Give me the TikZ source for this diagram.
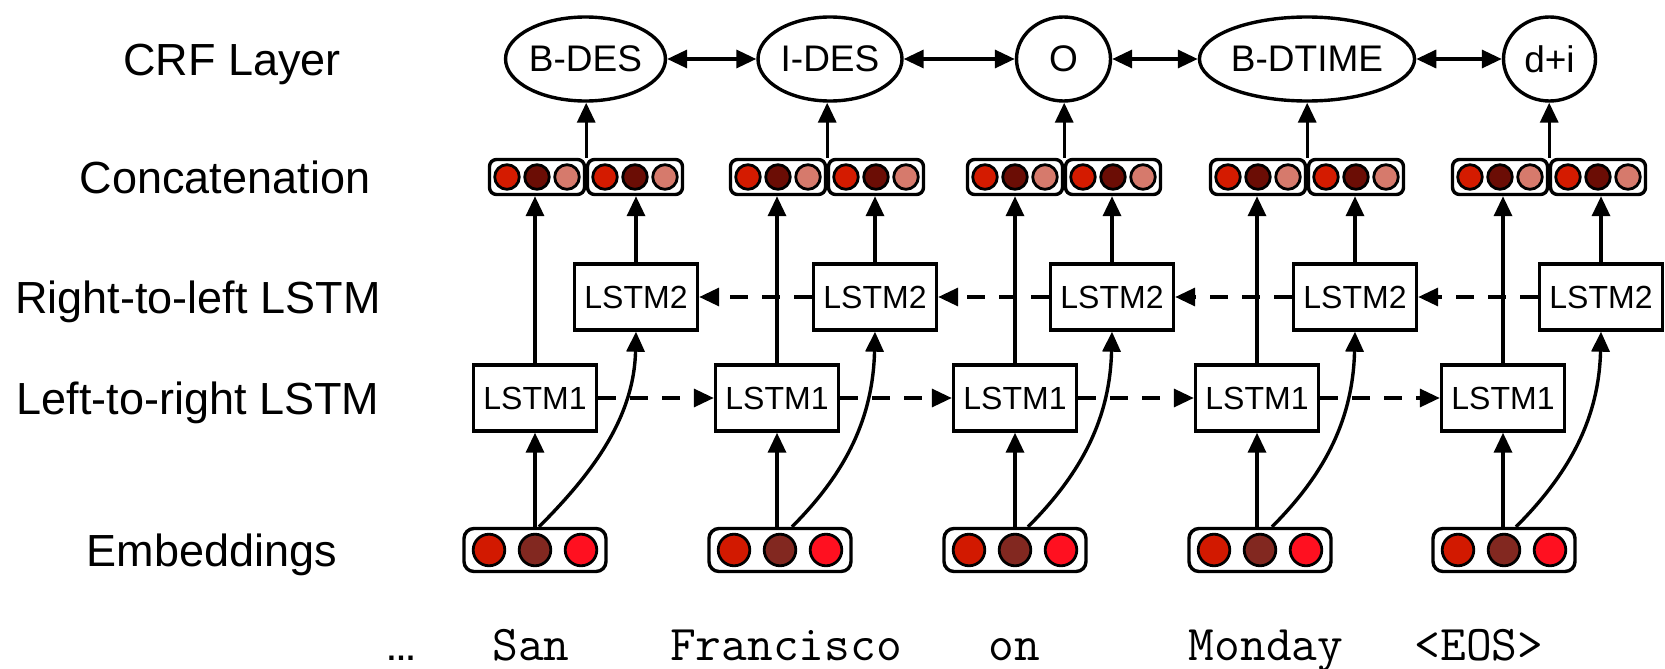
\documentclass[tikz,border=0pt]{standalone}
\usepackage{fontspec}
\setmainfont{Liberation Sans}
\usetikzlibrary{arrows.meta,shapes.geometric}

\definecolor{cA}{RGB}{212,27,0}
\definecolor{cB}{RGB}{107,13,5}
\definecolor{cC}{RGB}{214,122,108}
\definecolor{eA}{RGB}{210,25,0}
\definecolor{eB}{RGB}{130,40,32}
\definecolor{eC}{RGB}{255,16,32}

\begin{document}
\begin{tikzpicture}[x=0.5pt,y=-0.5pt, line width=1.7pt,
 tip/.style={-{Triangle[length=10pt,width=9pt]}},
 dbl/.style={{Triangle[length=10pt,width=9pt]}-{Triangle[length=10pt,width=9pt]}},
 lstm/.style={draw, rectangle, minimum width=61.5pt, minimum height=33pt, inner sep=0pt, font=\fontsize{16}{19}\selectfont},
 crf/.style={draw, ellipse, minimum height=42pt, inner sep=0pt, font=\fontsize{18.5}{22}\selectfont},
 half/.style={draw, rounded corners=3.5pt, minimum width=47.5pt, minimum height=17.5pt, inner sep=0pt},
 embbox/.style={draw, rounded corners=5pt, minimum width=71pt, minimum height=21.5pt, inner sep=0pt},
 dot/.style={draw, circle, line width=1.4pt, inner sep=0pt, minimum size=12.3pt},
 edot/.style={draw, circle, line width=1.4pt, inner sep=0pt, minimum size=15.8pt},
 rowlabel/.style={anchor=base, font=\fontsize{22.5}{27}\selectfont},
 word/.style={anchor=base, font=\ttfamily\fontsize{25}{30}\selectfont},
 dashedlink/.style={dash pattern=on 9pt off 7pt}
]
\useasboundingbox (0,0) rectangle (1665,669);

% row labels
\node[rowlabel] (lcrf) at (232,75) {CRF Layer};
\node[rowlabel] (lcat) at (225,193) {Concatenation};
\node[rowlabel] (lrl) at (198,313) {Right-to-left LSTM};
\node[rowlabel] (llr) at (198,414) {Left-to-right LSTM};
\node[rowlabel] (lemb) at (212,566) {Embeddings};

% columns
\foreach \i/\s/\la/\lb/\ex/\cx/\w/\off/\lab in {
  1/586/535/636/535/585.5/71/2/B-DES,
  2/827/777/875/780/830/72/6/I-DES,
  3/1064/1015/1112/1015/1063.5/47/6.5/O,
  4/1307/1257/1355/1260/1307/106.5/6/B-DTIME,
  5/1549/1503/1601/1504/1549.5/46/6/d+i}{
  \node[crf, minimum width=\w pt] (crf\i) at (\cx,59) {\lab};
  \node[half] (cl\i) at (\s-49,177) {};
  \node[half] (cr\i) at (\s+49,177) {};
  \node[dot, fill=cA] (cl\i-a) at (\s-79,177) {};
  \node[dot, fill=cB] (cl\i-b) at (\s-49,177) {};
  \node[dot, fill=cC] (cl\i-c) at (\s-19,177) {};
  \node[dot, fill=cA] (cr\i-a) at (\s+19,177) {};
  \node[dot, fill=cB] (cr\i-b) at (\s+49,177) {};
  \node[dot, fill=cC] (cr\i-c) at (\s+79,177) {};
  \node[lstm] (lb\i) at (\lb,297) {LSTM2};
  \node[lstm] (la\i) at (\la,398) {LSTM1};
  \node[embbox] (e\i) at (\ex,550) {};
  \node[edot, fill=eA] (e\i-a) at (\ex-46,550) {};
  \node[edot, fill=eB] (e\i-b) at (\ex,550) {};
  \node[edot, fill=eC] (e\i-c) at (\ex+46,550) {};
  % connectors
  \draw[tip] (la\i.south |- e\i.north) -- (la\i.south);
  \draw[tip] ([xshift=\off pt]e\i.north) .. controls +(55,-55) and +(-2,85) .. (lb\i.south);
  \draw[tip] (la\i.north) -- (la\i.north |- cl\i.south);
  \draw[tip] (lb\i.north) -- (lb\i.north |- cr\i.south);
  \draw[tip] (cl\i.north east) -- (crf\i.south -| cl\i.north east);
}

\foreach \i/\j in {1/2,2/3,3/4,4/5}{
  \draw[dbl] (crf\i.east) -- (crf\j.west);
  \draw[tip, dashedlink] (la\i.east) -- (la\j.west);
  \draw[tip, dashedlink] (lb\j.west) -- (lb\i.east);
}

% words
\node[word, font=\bfseries\fontsize{15}{18}\selectfont] (w0) at (401,660) {…};
\node[word] (w1) at (531,660) {San};
\node[word] (w2) at (786,660) {Francisco};
\node[word] (w3) at (1014,660) {on};
\node[word] (w4) at (1266,660) {Monday};
\node[word] (w5) at (1479,660) {<EOS>};
\end{tikzpicture}
\end{document}
